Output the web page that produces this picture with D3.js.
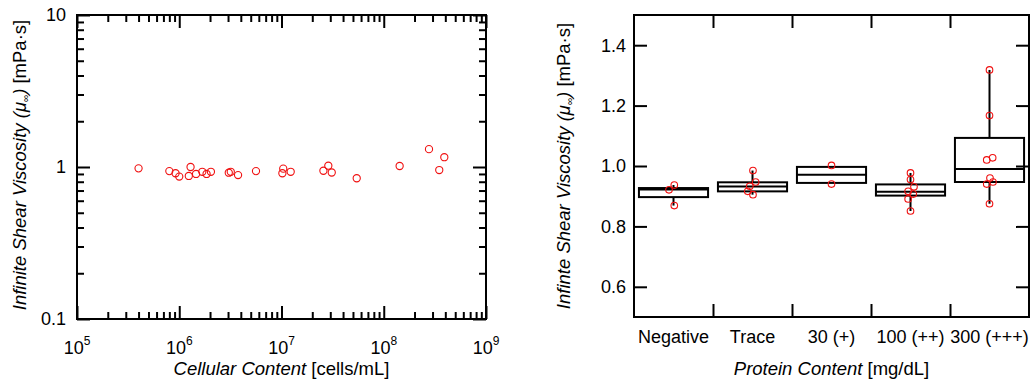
<!DOCTYPE html>
<html>
<head>
<meta charset="utf-8">
<script src="https://cdn.jsdelivr.net/npm/d3@7"></script>
<style>
    body { margin: 0; background: white; }
    svg { font-family: "Liberation Sans", Arial, sans-serif; }
    .tick line { stroke: black; stroke-width: 2; }
</style>
</head>
<body>
<svg id="chart" width="1033" height="385"></svg>
<script>
    // left panel: cellular content vs viscosity
    let cellCounts = [4.0e5, 8.0e5, 9.2e5, 1.0e6, 1.24e6, 1.29e6, 1.46e6, 1.68e6, 1.85e6, 2.04e6,
                      3.05e6, 3.19e6, 3.76e6, 5.63e6, 1.02e7, 1.04e7, 1.23e7, 2.57e7, 2.87e7, 3.1e7,
                      5.44e7, 1.43e8, 2.77e8, 3.49e8, 3.91e8]
    let cellViscosity = [0.98, 0.94, 0.91, 0.865, 0.873, 1.0, 0.90, 0.93, 0.90, 0.93,
                         0.917, 0.93, 0.885, 0.94, 0.91, 0.975, 0.93, 0.945, 1.02, 0.92,
                         0.843, 1.015, 1.31, 0.955, 1.16]
    let decadeTicks = [1e5, 1e6, 1e7, 1e8, 1e9]
    let decadeExponents = ["5", "6", "7", "8", "9"]
    let logViscTicks = [0.1, 1, 10]
    let logViscLabels = ["0.1", "1", "10"]

    // right panel: protein content box plots
    let proteinGroups = ["Negative", "Trace", "30 (+)", "100 (++)", "300 (+++)"]
    let proteinValues = [
        [0.937, 0.921, 0.869],
        [0.985, 0.947, 0.933, 0.916, 0.905],
        [1.002, 0.940],
        [0.977, 0.955, 0.931, 0.916, 0.907, 0.891, 0.851],
        [1.318, 1.167, 1.027, 1.020, 0.960, 0.947, 0.940, 0.875]
    ]
    let proteinJitter = [
        [0.01, -0.057, 0.01],
        [0.006, 0.04, -0.035, -0.06, 0.006],
        [0, 0],
        [0, 0, 0.044, -0.03, 0.035, -0.03, 0],
        [0, 0, 0.04, -0.035, 0.006, 0.044, -0.035, 0]
    ]
    let boxQ1 = [0.897, 0.916, 0.944, 0.902, 0.947]
    let boxMedian = [0.922, 0.932, 0.971, 0.915, 0.990]
    let boxQ3 = [0.927, 0.946, 0.997, 0.939, 1.093]
    let whiskerLow = [0.869, 0.905, 0.944, 0.851, 0.875]
    let whiskerHigh = [0.937, 0.985, 0.997, 0.977, 1.318]
    let proteinTicks = [0.6, 0.8, 1.0, 1.2, 1.4]

    let svg = d3.select("#chart")
    let red = "#f01010"

    function minorLogTicks(decades) {
        let result = []
        decades.slice(0, -1).forEach(d => {
            for (let k = 2; k <= 9; k++) result.push(d * k)
        })
        return result
    }

    // draws inward ticks on all four sides, no labels
    function drawTicks(g, x, y, xTicks, yTicks, len, box) {
        let { left, right, top, bottom } = box
        g.append("g").attr("transform", `translate(0,${bottom})`)
            .call(d3.axisBottom(x).tickValues(xTicks).tickSize(-len).tickFormat(""))
        g.append("g").attr("transform", `translate(0,${top})`)
            .call(d3.axisTop(x).tickValues(xTicks).tickSize(-len).tickFormat(""))
        g.append("g").attr("transform", `translate(${left},0)`)
            .call(d3.axisLeft(y).tickValues(yTicks).tickSize(-len).tickFormat(""))
        g.append("g").attr("transform", `translate(${right},0)`)
            .call(d3.axisRight(y).tickValues(yTicks).tickSize(-len).tickFormat(""))
        g.selectAll(".domain").remove()
    }

    function drawFrame(box) {
        svg.append("rect")
            .attr("x", box.left).attr("y", box.top)
            .attr("width", box.right - box.left).attr("height", box.bottom - box.top)
            .attr("fill", "none").attr("stroke", "black").attr("stroke-width", 2)
    }

    function yTitle(x, cy, word) {
        let t = svg.append("text")
            .attr("transform", `translate(${x},${cy}) rotate(-90)`)
            .attr("text-anchor", "middle")
            .attr("font-size", 18.5)
        t.append("tspan").attr("font-style", "italic").text(word + " Shear Viscosity (μ")
        t.append("tspan").attr("font-style", "italic").attr("font-size", 10).attr("dy", 3).text("∞")
        t.append("tspan").attr("font-style", "italic").attr("dy", -3).text(")")
        t.append("tspan").text(" [mPa·s]")
    }

    function xTitle(cx, y, italicPart, unit) {
        let t = svg.append("text")
            .attr("x", cx).attr("y", y)
            .attr("text-anchor", "middle")
            .attr("font-size", 18.5)
        t.append("tspan").attr("font-style", "italic").text(italicPart)
        t.append("tspan").text(" " + unit)
    }

    function drawCellPanel() {
        let box = { left: 77, right: 486, top: 15, bottom: 319 }
        let x = d3.scaleLog().domain([1e5, 1e9]).range([box.left, box.right])
        let y = d3.scaleLog().domain([0.1, 10]).range([box.bottom, box.top])

        let g = svg.append("g")
        drawTicks(g, x, y, minorLogTicks(decadeTicks), minorLogTicks(logViscTicks), 7, box)
        drawTicks(g, x, y, decadeTicks, logViscTicks, 13, box)
        drawFrame(box)

        svg.selectAll(".ylab-left")
            .data(logViscTicks)
            .enter()
            .append("text")
            .attr("x", box.left - 11)
            .attr("y", d => y(d))
            .attr("dy", "0.36em")
            .attr("text-anchor", "end")
            .attr("font-size", 18)
            .text((d, i) => logViscLabels[i])

        let xl = svg.selectAll(".xlab-left")
            .data(decadeTicks)
            .enter()
            .append("text")
            .attr("x", d => x(d))
            .attr("y", 354)
            .attr("text-anchor", "middle")
            .attr("font-size", 18)
        xl.append("tspan").text("10")
        xl.append("tspan").attr("font-size", 12).attr("dy", -9).text((d, i) => decadeExponents[i])

        svg.selectAll(".cellpt")
            .data(cellCounts)
            .enter()
            .append("circle")
            .attr("cx", d => x(d))
            .attr("cy", (d, i) => y(cellViscosity[i]))
            .attr("r", 3.6)
            .attr("fill", "none")
            .attr("stroke", red)
            .attr("stroke-width", 1.1)

        yTitle(26, 165, "Infinite")
        xTitle((box.left + box.right) / 2, 375, "Cellular Content", "[cells/mL]")
    }

    function drawProteinPanel() {
        let box = { left: 634, right: 1029, top: 15, bottom: 317 }
        let x = d3.scaleBand().domain(proteinGroups).range([box.left, box.right])
        let xIndex = d3.scaleLinear().domain([0, proteinGroups.length]).range([box.left, box.right])
        let y = d3.scaleLinear().domain([0.5, 1.5]).range([box.bottom, box.top])
        let bw = x.bandwidth()
        let boxW = bw * 0.875

        let g = svg.append("g")
        let boundaries = d3.range(1, proteinGroups.length)
        drawTicks(g, xIndex, y, boundaries, proteinTicks, 13, box)
        drawFrame(box)

        svg.selectAll(".ylab-right")
            .data(proteinTicks)
            .enter()
            .append("text")
            .attr("x", box.left - 8)
            .attr("y", d => y(d))
            .attr("dy", "0.36em")
            .attr("text-anchor", "end")
            .attr("font-size", 18)
            .text(d => d.toFixed(1))

        svg.append("g")
            .attr("transform", `translate(0,${box.bottom})`)
            .call(d3.axisBottom(x).tickSize(0).tickPadding(13))
            .call(a => a.select(".domain").remove())
            .selectAll("text")
            .attr("font-size", 18)
            .attr("font-family", "Liberation Sans, Arial, sans-serif")

        let groups = svg.selectAll(".grp")
            .data(proteinGroups)
            .enter()
            .append("g")

        groups.append("line")
            .attr("x1", d => x(d) + bw / 2).attr("x2", d => x(d) + bw / 2)
            .attr("y1", (d, i) => y(boxQ3[i])).attr("y2", (d, i) => y(whiskerHigh[i]))
            .attr("stroke", "black").attr("stroke-width", 2)
        groups.append("line")
            .attr("x1", d => x(d) + bw / 2).attr("x2", d => x(d) + bw / 2)
            .attr("y1", (d, i) => y(boxQ1[i])).attr("y2", (d, i) => y(whiskerLow[i]))
            .attr("stroke", "black").attr("stroke-width", 2)
        groups.append("rect")
            .attr("x", d => x(d) + (bw - boxW) / 2)
            .attr("width", boxW)
            .attr("y", (d, i) => y(boxQ3[i]))
            .attr("height", (d, i) => y(boxQ1[i]) - y(boxQ3[i]))
            .attr("fill", "none").attr("stroke", "black").attr("stroke-width", 2)
        groups.append("line")
            .attr("x1", d => x(d) + (bw - boxW) / 2).attr("x2", d => x(d) + (bw + boxW) / 2)
            .attr("y1", (d, i) => y(boxMedian[i])).attr("y2", (d, i) => y(boxMedian[i]))
            .attr("stroke", "black").attr("stroke-width", 2)

        groups.each(function (cat, gi) {
            d3.select(this).selectAll("circle")
                .data(proteinValues[gi])
                .enter()
                .append("circle")
                .attr("cx", (d, i) => x(cat) + bw / 2 + proteinJitter[gi][i] * bw)
                .attr("cy", d => y(d))
                .attr("r", 3.3)
                .attr("fill", "none")
                .attr("stroke", red)
                .attr("stroke-width", 1.1)
        })

        yTitle(570, 166, "Infinte")
        xTitle((box.left + box.right) / 2, 375, "Protein Content", "[mg/dL]")
    }

    drawCellPanel()
    drawProteinPanel()
</script>
</body>
</html>
